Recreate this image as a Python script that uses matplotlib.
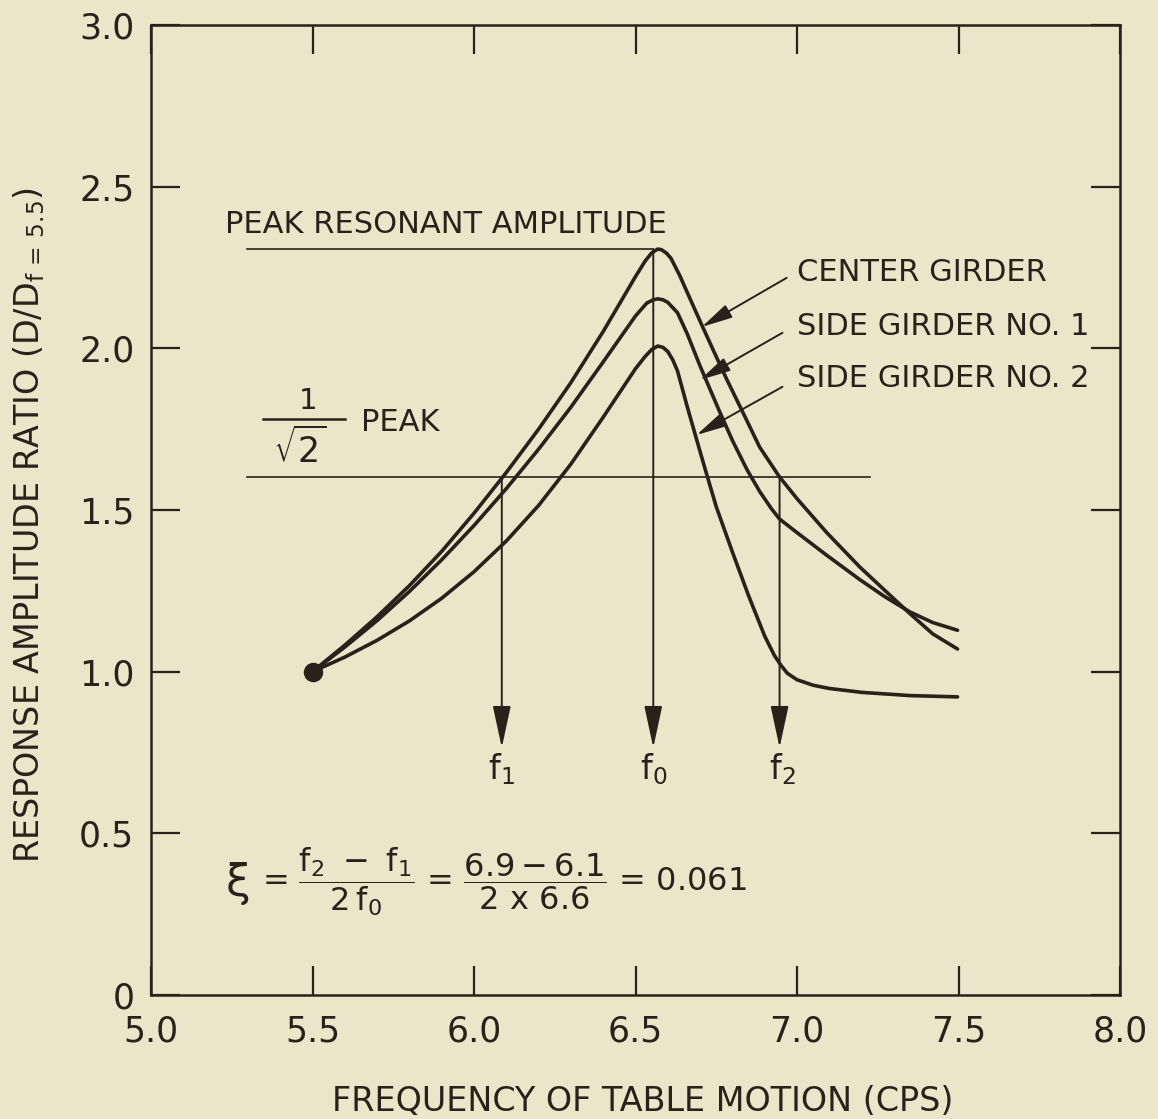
import matplotlib.pyplot as plt

# values
x_ticks = [5.0, 5.5, 6.0, 6.5, 7.0, 7.5, 8.0]
x_tick_labels = ["5.0", "5.5", "6.0", "6.5", "7.0", "7.5", "8.0"]
y_ticks = [0, 0.5, 1.0, 1.5, 2.0, 2.5, 3.0]
y_tick_labels = ["0", "0.5", "1.0", "1.5", "2.0", "2.5", "3.0"]

center_x = [5.5, 5.6, 5.7, 5.8, 5.9, 6.0, 6.1, 6.2, 6.3, 6.4, 6.5, 6.53, 6.55,
            6.569, 6.58, 6.595, 6.61, 6.637, 6.677, 6.708, 6.745, 6.782,
            6.844, 6.884, 6.946, 7.0, 7.092, 7.194, 7.27, 7.349, 7.42, 7.497]
center_y = [1.0, 1.082, 1.17, 1.266, 1.372, 1.49, 1.616, 1.75, 1.894, 2.052, 2.222,
            2.27, 2.295, 2.307, 2.305, 2.295, 2.278, 2.225, 2.135, 2.066, 1.985,
            1.905, 1.778, 1.695, 1.602, 1.535, 1.43, 1.324, 1.253, 1.18, 1.117, 1.07]

side1_x = [5.5, 5.6, 5.7, 5.8, 5.9, 6.0, 6.1, 6.2, 6.3, 6.4, 6.5, 6.535,
           6.555, 6.569, 6.585, 6.60, 6.63, 6.66, 6.70, 6.73, 6.76, 6.80, 6.845, 6.884,
           6.92, 6.946, 7.0, 7.092, 7.194, 7.27, 7.349, 7.42, 7.497]
side1_y = [1.0, 1.076, 1.158, 1.248, 1.346, 1.452, 1.566, 1.688, 1.818, 1.958, 2.10,
           2.14, 2.15, 2.153, 2.15, 2.142, 2.11, 2.045, 1.945, 1.875, 1.805, 1.715, 1.625,
           1.558, 1.505, 1.472, 1.43, 1.36, 1.285, 1.233, 1.185, 1.152, 1.128]

side2_x = [5.5, 5.6, 5.7, 5.8, 5.9, 6.0, 6.1, 6.2, 6.3, 6.4, 6.5, 6.53,
           6.55, 6.569, 6.585, 6.60, 6.615, 6.63, 6.66, 6.69, 6.716, 6.75, 6.80, 6.85,
           6.90, 6.93, 6.95, 6.97, 7.0, 7.05, 7.1, 7.2, 7.35, 7.497]
side2_y = [1.0, 1.045, 1.097, 1.157, 1.227, 1.309, 1.404, 1.514, 1.642, 1.787, 1.937,
           1.975, 1.996, 2.007, 2.003, 1.99, 1.965, 1.93, 1.82, 1.715, 1.625, 1.51, 1.37,
           1.235, 1.11, 1.05, 1.02, 0.995, 0.975, 0.958, 0.948, 0.936, 0.926, 0.922]

start_point = (5.5, 1.0)
peak_level = 2.307
half_power_level = 1.602
f1, f0, f2 = 6.086, 6.555, 6.946
arrow_tip = 0.765

girder_labels = ["CENTER GIRDER", "SIDE GIRDER NO. 1", "SIDE GIRDER NO. 2"]

bg = "#ece5c9"
ink = "#2b211b"

plt.rcParams["font.family"] = "DejaVu Sans"
plt.rcParams["mathtext.fontset"] = "dejavusans"
plt.rcParams["mathtext.default"] = "regular"

fig = plt.figure(figsize=(11.58, 11.19), dpi=100, facecolor=bg)
ax = fig.add_axes([0.1304, 0.1108, 0.8368, 0.8669], facecolor=bg)

ax.plot(center_x, center_y, color=ink, lw=2.6, solid_capstyle="round")
ax.plot(side1_x, side1_y, color=ink, lw=2.6, solid_capstyle="round")
ax.plot(side2_x, side2_y, color=ink, lw=2.6, solid_capstyle="round")
ax.plot(*start_point, "o", color=ink, ms=13)

# reference lines
ax.plot([5.297, f0], [peak_level, peak_level], color=ink, lw=1.2)
ax.plot([5.297, 7.227], [half_power_level, half_power_level], color=ink, lw=1.2)

arrow_kw = dict(arrowstyle="-|>,head_length=1.3,head_width=0.28", color=ink, lw=1.4,
                shrinkA=0, shrinkB=0, mutation_scale=20)
for xf, ytop in [(f1, half_power_level), (f0, peak_level), (f2, half_power_level)]:
    ax.annotate("", xy=(xf, arrow_tip), xytext=(xf, ytop), arrowprops=arrow_kw)

ax.text(f1, 0.70, "$f_1$", fontsize=24, color=ink, ha="center", va="center")
ax.text(f0, 0.70, "$f_0$", fontsize=24, color=ink, ha="center", va="center")
ax.text(f2 + 0.01, 0.70, "$f_2$", fontsize=24, color=ink, ha="center", va="center")

ax.text(5.229, 2.382, "PEAK RESONANT AMPLITUDE", fontsize=22, color=ink,
        ha="left", va="center")

# 1/sqrt(2) PEAK, drawn as a hand-set fraction
ax.plot([5.347, 5.601], [1.782, 1.782], color=ink, lw=1.8)
ax.text(5.486, 1.838, "1", fontsize=21, color=ink, ha="center", va="center")
ax.text(5.461, 1.69, r"$\sqrt{2}$", fontsize=25, color=ink, ha="center", va="center")
ax.text(5.650, 1.772, "PEAK", fontsize=22, color=ink, ha="left", va="center")

# girder labels with leader arrows
label_y = [2.233, 2.066, 1.908]
leader_start = [(6.968, 2.218), (6.955, 2.048), (6.955, 1.881)]
leader_tip = [(6.705, 2.066), (6.699, 1.902), (6.689, 1.732)]
leader_kw = dict(arrowstyle="-|>,head_length=0.95,head_width=0.22", color=ink, lw=1.4,
                 shrinkA=0, shrinkB=0, mutation_scale=20)
for label, ly, s, t in zip(girder_labels, label_y, leader_start, leader_tip):
    ax.text(7.0, ly, label, fontsize=22, color=ink, ha="left", va="center")
    ax.annotate("", xy=t, xytext=s, arrowprops=leader_kw)

ax.text(5.228, 0.345, r"$\xi$", fontsize=32, color=ink, ha="left", va="center")
ax.text(5.343, 0.35,
        r"= $\dfrac{f_2\ -\ f_1}{2\,f_0}$ = $\dfrac{6.9 - 6.1}{2\ x\ 6.6}$ = 0.061",
        fontsize=23, color=ink, ha="left", va="center")

ax.set_xlim(5.0, 8.0)
ax.set_ylim(0, 3.0)
ax.set_xticks(x_ticks)
ax.set_xticklabels(x_tick_labels)
ax.set_yticks(y_ticks)
ax.set_yticklabels(y_tick_labels)
ax.tick_params(direction="in", length=21, width=1.6, colors=ink, labelsize=25,
               top=True, right=True)
ax.tick_params(axis="x", pad=14)
ax.tick_params(axis="y", pad=12)
for sp in ax.spines.values():
    sp.set_linewidth(1.8)
    sp.set_color(ink)

ax.text(0.507, -0.110, "FREQUENCY OF TABLE MOTION (CPS)", transform=ax.transAxes,
        fontsize=24, color=ink, ha="center", va="center")
ax.text(-0.126, 0.4845, r"RESPONSE AMPLITUDE RATIO (D/D$_{f\,=\,5.5}$)",
        transform=ax.transAxes, rotation=90, fontsize=24, color=ink,
        ha="center", va="center")

fig.savefig("out.png", dpi=100, facecolor=bg)
